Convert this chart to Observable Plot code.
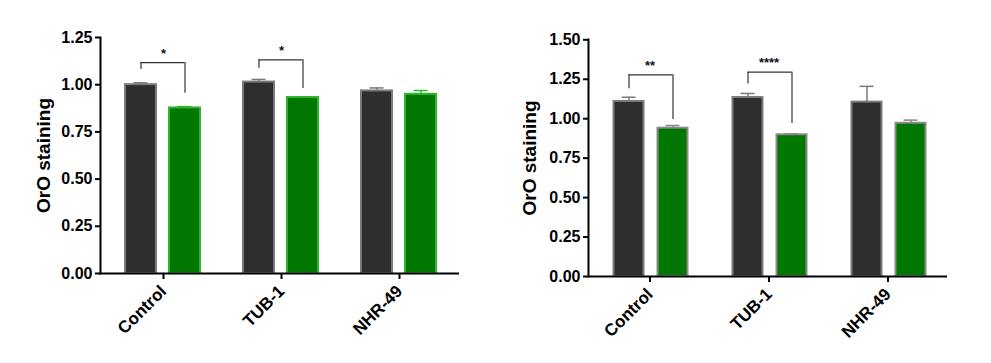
<!DOCTYPE html>
<html>
<head>
<meta charset="utf-8">
<script src="https://cdn.jsdelivr.net/npm/d3@7"></script>
<script src="https://cdn.jsdelivr.net/npm/@observablehq/plot@0.6"></script>
<style>
  html, body { margin: 0; padding: 0; background: #ffffff; }
  #wrap { display: flex; flex-direction: row; width: 991px; height: 363px; }
  svg { display: block; }
</style>
</head>
<body>
<div id="wrap"></div>
<script>
// ---------- data ----------
const categories = ["Control", "TUB-1", "NHR-49"];
const yLabel = "OrO staining";

// left panel
const leftControl    = [1.000, 1.014, 0.967];
const leftControlErr = [0.010, 0.014, 0.016];
const leftTreated    = [0.877, 0.932, 0.949];
const leftTreatedErr = [0.007, 0.004, 0.020];
const leftTicks      = [0, 0.25, 0.5, 0.75, 1.0, 1.25];
const leftBrackets   = [
  {group: "Control", level: 1.117, left: 1.080, right: 0.955, label: "*"},
  {group: "TUB-1",   level: 1.132, left: 1.087, right: 0.980, label: "*"}
];

// right panel
const rightControl    = [1.109, 1.134, 1.105];
const rightControlErr = [0.027, 0.026, 0.100];
const rightTreated    = [0.940, 0.898, 0.971];
const rightTreatedErr = [0.017, 0.006, 0.020];
const rightTicks      = [0, 0.25, 0.5, 0.75, 1.0, 1.25, 1.5];
const rightBrackets   = [
  {group: "Control", level: 1.278, left: 1.190, right: 0.995, label: "**"},
  {group: "TUB-1",   level: 1.295, left: 1.220, right: 0.970, label: "****"}
];

// ---------- drawing ----------
const FONT = "'Liberation Sans', Arial, sans-serif";
const DARK = "#2e2e2e", DARK_EDGE = "#7a7a7a";
const GREEN = "#007700";

function panel(cfg) {
  const rows = categories.map((c, i) => ({
    group: c,
    ctrl: cfg.ctrl[i], ctrlErr: cfg.ctrlErr[i],
    trt: cfg.trt[i], trtErr: cfg.trtErr[i]
  }));
  const L = cfg.layout;
  const step = (L.range[1] - L.range[0]) / categories.length;
  const half = step / 2;
  const darkInset = {insetLeft: half + L.dark[0], insetRight: half - L.dark[1]};
  const trtInset  = {insetLeft: half + L.trt[0],  insetRight: half - L.trt[1]};
  const darkC = (L.dark[0] + L.dark[1]) / 2;
  const trtC  = (L.trt[0] + L.trt[1]) / 2;
  const cap = 7;
  const capInset = c => ({insetLeft: half + c - cap, insetRight: half - c - cap});

  return Plot.plot({
    width: L.width,
    height: 363,
    marginLeft: L.marginLeft,
    marginRight: L.marginRight,
    marginTop: L.marginTop,
    marginBottom: L.marginBottom,
    style: {fontFamily: FONT, fontWeight: "bold", color: "#000", background: "transparent", overflow: "visible"},
    x: {domain: categories, range: L.range, padding: 0},
    y: {domain: [0, cfg.yMax], range: [L.y0, L.yTop]},
    marks: [
      Plot.barY(rows, {x: "group", y: "ctrl", fill: DARK, stroke: DARK_EDGE, strokeWidth: 2, ...darkInset}),
      Plot.barY(rows, {x: "group", y: "trt", fill: GREEN, stroke: cfg.greenEdge, strokeWidth: 2, ...trtInset}),
      Plot.ruleX(rows, {x: "group", y1: "ctrl", y2: d => d.ctrl + d.ctrlErr, dx: darkC, stroke: DARK_EDGE, strokeWidth: 1.5}),
      Plot.tickY(rows, {x: "group", y: d => d.ctrl + d.ctrlErr, stroke: DARK_EDGE, strokeWidth: 1.5, ...capInset(darkC)}),
      Plot.ruleX(rows, {x: "group", y1: "trt", y2: d => d.trt + d.trtErr, dx: trtC, stroke: cfg.greenEdge, strokeWidth: 1.5}),
      Plot.tickY(rows, {x: "group", y: d => d.trt + d.trtErr, stroke: cfg.greenEdge, strokeWidth: 1.5, ...capInset(trtC)}),
      Plot.ruleY(cfg.brackets, {x1: "group", x2: "group", y: "level", stroke: "#333", strokeWidth: 1.2,
        insetLeft: half + darkC, insetRight: half - trtC}),
      Plot.ruleX(cfg.brackets, {x: "group", y1: "left", y2: "level", dx: darkC, stroke: "#333", strokeWidth: 1.2}),
      Plot.ruleX(cfg.brackets, {x: "group", y1: "right", y2: "level", dx: trtC, stroke: "#333", strokeWidth: 1.2}),
      Plot.text(cfg.brackets, {x: "group", y: "level", text: "label", dy: -9, fontSize: 13, fontWeight: "bold", fill: "#111"}),
      Plot.axisY({ticks: cfg.ticks, tickFormat: d3.format(".2f"), tickSize: 5, tickPadding: 3, fontSize: 16, fontWeight: "bold", strokeWidth: 2, label: null}),
      Plot.axisX({tickSize: 6, tickPadding: 9, tickRotate: -45, fontSize: 17, fontWeight: "bold", strokeWidth: 2, label: null}),
      Plot.ruleY([0], {stroke: "#000", strokeWidth: 2}),
      Plot.frame({anchor: "left", stroke: "#000", strokeWidth: 2}),
      Plot.text([yLabel], {frameAnchor: "left", dx: -L.labelOffset, dy: L.labelDy, rotate: -90, text: d => d, fontSize: 19, fontWeight: "bold", fill: "#000", textAnchor: "middle"})
    ]
  });
}

const left = panel({
  ctrl: leftControl, ctrlErr: leftControlErr,
  trt: leftTreated, trtErr: leftTreatedErr,
  brackets: leftBrackets, ticks: leftTicks, yMax: 1.25,
  greenEdge: "#2fb52f",
  layout: {
    width: 480, marginLeft: 100, marginRight: 21, marginTop: 37, marginBottom: 90,
    range: [104, 458], y0: 273, yTop: 37,
    dark: [-38, -7], trt: [6, 37],
    labelOffset: 57, labelDy: 0
  }
});

const right = panel({
  ctrl: rightControl, ctrlErr: rightControlErr,
  trt: rightTreated, trtErr: rightTreatedErr,
  brackets: rightBrackets, ticks: rightTicks, yMax: 1.5,
  greenEdge: "#8a8a8a",
  layout: {
    width: 511, marginLeft: 108, marginRight: 44, marginTop: 39, marginBottom: 87,
    range: [109.5, 466.5], y0: 276, yTop: 39.3,
    dark: [-36, -6], trt: [8, 38],
    labelOffset: 59, labelDy: 0
  }
});

document.getElementById("wrap").append(left, right);
</script>
</body>
</html>
